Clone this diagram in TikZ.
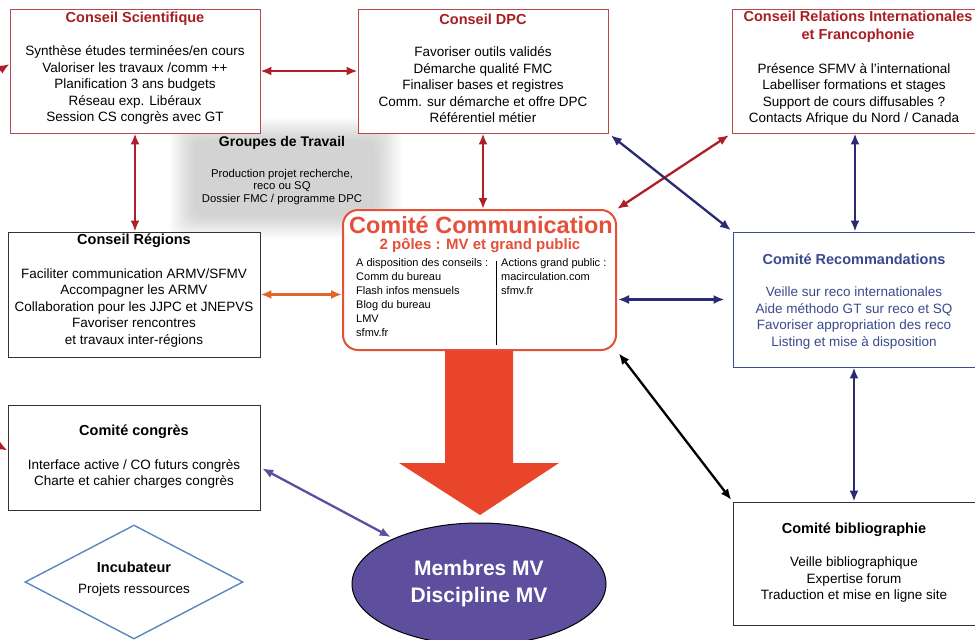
\documentclass[tikz,border=0pt]{standalone}
\usepackage{fontspec}
\setmainfont{Liberation Sans}
\usetikzlibrary{arrows.meta,shapes.geometric}
\definecolor{boxred}{HTML}{B8484C}
\definecolor{titred}{HTML}{A81E22}
\definecolor{arrred}{HTML}{B01E28}
\definecolor{navy}{HTML}{2B2A72}
\definecolor{orng}{HTML}{E0662A}
\definecolor{commred}{HTML}{E4503A}
\definecolor{recblue}{HTML}{3B4A8C}
\definecolor{ellfill}{HTML}{5E4F9E}
\definecolor{ellarr}{HTML}{5B4FA0}
\definecolor{incblue}{HTML}{5B87C0}
\definecolor{bigarr}{HTML}{E8452A}
\begin{document}
\begin{tikzpicture}[x=1pt,y=-1pt,
  box/.style={draw, fill=white, line width=0.9pt, inner sep=0pt},
  ttl/.style={inner sep=0pt, font=\fontsize{14.5}{17}\selectfont\bfseries, align=center},
  bdy/.style={inner sep=0pt, font=\fontsize{13.5}{16.5}\selectfont, align=center},
  dbl/.style={line width=2.3pt, {Latex[length=11pt,width=9pt]}-{Latex[length=11pt,width=9pt]}},
  sgl/.style={line width=2.3pt, -{Latex[length=11pt,width=9pt]}}
]
\useasboundingbox (0,0) rectangle (975,640);

% Groupes de travail grey glow
\foreach \i in {0,...,11}{
  \fill[black, opacity=0.017, rounded corners=10pt] (170+2.2*\i,118+2*\i) rectangle (402-2.5*\i,238-2*\i);
}

% Boxes
\node[box, draw=boxred, minimum width=250pt, minimum height=124pt] (cs) at (135,71) {};
\node[ttl, text=titred] (cst) at (135,19) {Conseil Scientifique};
\node[bdy] (csb) at (135,85) {Synthèse études terminées/en cours\\Valoriser les travaux /comm ++\\Planification 3 ans budgets\\Réseau exp. Libéraux\\Session CS congrès avec GT};

\node[box, draw=boxred, minimum width=250pt, minimum height=124pt] (dpc) at (483,71) {};
\node[ttl, text=titred] (dpct) at (483,19) {Conseil DPC};
\node[bdy] (dpcb) at (483,85) {Favoriser outils validés\\Démarche qualité FMC\\Finaliser bases et registres\\Comm. sur démarche et offre DPC\\Référentiel métier};

\node[box, draw=boxred, minimum width=246pt, minimum height=124pt] (ri) at (855,71) {};
\node[ttl, text=titred, font=\fontsize{14.5}{18}\selectfont\bfseries] (rit) at (858,27) {Conseil Relations Internationales\\et Francophonie};
\node[bdy] (rib) at (854,94.5) {Présence SFMV à l'international\\Labelliser formations et stages\\Support de cours diffusables ?\\Contacts Afrique du Nord / Canada};

\node[ttl, font=\fontsize{14}{16}\selectfont\bfseries] (gtt) at (282,143) {Groupes de Travail};
\node[bdy, font=\fontsize{11.3}{12.5}\selectfont] (gtb) at (282,187) {Production projet recherche,\\reco ou SQ\\Dossier FMC / programme DPC};

\node[box, draw=black!80, minimum width=252pt, minimum height=125pt] (reg) at (134,294.5) {};
\node[ttl] (regt) at (134,241) {Conseil Régions};
\node[bdy] (regb) at (134,308) {Faciliter communication ARMV/SFMV\\Accompagner les ARMV\\Collaboration pour les JJPC et JNEPVS\\Favoriser rencontres\\et travaux inter-régions};

\node[box, draw=commred, line width=2pt, rounded corners=15pt, minimum width=273pt, minimum height=140pt] (comm) at (479.5,280) {};
\node[ttl, text=commred, font=\fontsize{23.5}{26}\selectfont\bfseries] (commt) at (481,225) {Comité Communication};
\node[ttl, text=commred, font=\fontsize{15}{17}\selectfont\bfseries] (comms) at (480,245) {2 pôles : MV et grand public};
\node[inner sep=0pt, anchor=north west, align=left, font=\fontsize{11}{14}\selectfont] (comml) at (356,258) {A disposition des conseils :\\Comm du bureau\\Flash infos mensuels\\Blog du bureau\\LMV\\sfmv.fr};
\node[inner sep=0pt, anchor=north west, align=left, font=\fontsize{11}{14}\selectfont] (commr) at (501,258) {Actions grand public :\\macirculation.com\\sfmv.fr};
\coordinate (divt) at (496,261);
\coordinate (divb) at (496,345);
\draw[line width=0.8pt] (divt) -- (divb);

\node[box, draw=recblue, minimum width=242pt, minimum height=135pt] (rec) at (854,299.5) {};
\node[ttl, text=recblue] (rect) at (854,259) {Comité Recommandations};
\node[bdy, text=recblue] (recb) at (854,318) {Veille sur reco internationales\\Aide méthodo GT sur reco et SQ\\Favoriser appropriation des reco\\Listing et mise à disposition};

\node[box, draw=black!80, minimum width=252pt, minimum height=105pt] (cong) at (134,457.5) {};
\node[ttl] (congt) at (134,432) {Comité congrès};
\node[bdy] (congb) at (134,474) {Interface active / CO futurs congrès\\Charte et cahier charges congrès};

\node[diamond, draw=incblue, line width=1.4pt, aspect=1.9, minimum width=218pt, minimum height=114pt, inner sep=0pt] (inc) at (134,582) {};
\node[ttl] (inct) at (134,567) {Incubateur};
\node[bdy] (incb) at (134,590) {Projets ressources};

\node[box, draw=black!80, minimum width=242pt, minimum height=123pt] (bib) at (854,563.5) {};
\node[ttl] (bibt) at (854,530) {Comité bibliographie};
\node[bdy] (bibb) at (854,580) {Veille bibliographique\\Expertise forum\\Traduction et mise en ligne site};

% Big arrow
\fill[bigarr] (445,351) -- (513,351) -- (513,463) -- (559,463) -- (480,515) -- (399,463) -- (445,463) -- cycle;

% Ellipse
\node[ellipse, draw=black, line width=1pt, fill=ellfill, minimum width=254pt, minimum height=122pt, inner sep=0pt,
      text=white, font=\fontsize{21}{27}\selectfont\bfseries, align=center] (ell) at (479,584) {Membres MV\\Discipline MV};

% Connectors
\draw[dbl, arrred] (cs.east) -- (dpc.west);
\draw[dbl, arrred] (cs.south) -- (cs.south |- reg.north);
\draw[dbl, arrred] (dpc.south) -- (dpc.south |- comm.north);
\draw[dbl, arrred, shorten <=3pt] (ri.south west) -- (comm.north east);
\draw[dbl, navy, shorten <=3pt, shorten >=2pt] (dpc.south east) -- (rec.north west);
\draw[dbl, navy] (ri.south) -- (ri.south |- rec.north);
\draw[dbl, orng] (reg.east) -- (reg.east -| comm.west);
\draw[dbl, navy, shorten >=8pt, shorten <=1pt] (comm.east |- rec.west) -- (rec.west);
\draw[line width=2.3pt] (reg.south) -- (reg.south -| cong.north);
\draw[dbl, black, shorten <=3pt, shorten >=2pt] (comm.south east) -- (bib.north west);
\draw[dbl, navy] (rec.south) -- (rec.south |- bib.north);
\draw[dbl, ellarr, shorten <=2pt, shorten >=3pt] ([yshift=-10pt]cong.east) -- (ell.152);

% off-canvas connectors on the left edge
\coordinate (offa) at (-20,82);
\coordinate (offb) at (-20,436);
\draw[sgl, arrred] (offa) -- ([yshift=7pt]cs.west);
\draw[sgl, arrred] (offb) -- ([yshift=7pt]cong.west);
\end{tikzpicture}
\end{document}
